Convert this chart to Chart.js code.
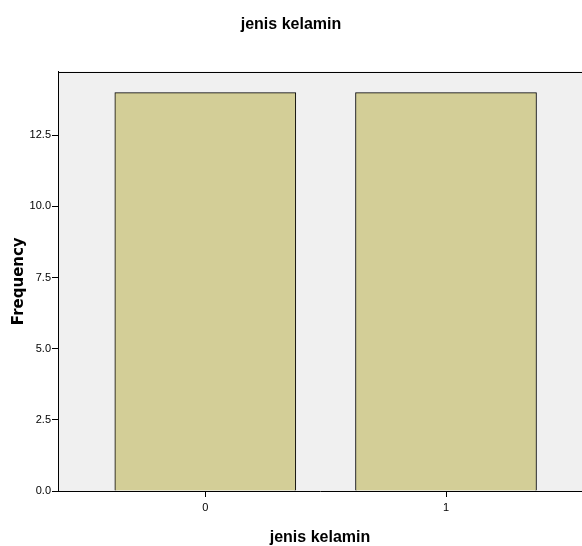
<!DOCTYPE html>
<html>
<head>
<meta charset="utf-8">
<script src="https://cdn.jsdelivr.net/npm/chart.js@4"></script>
<style>
  html, body { margin: 0; padding: 0; background: #fff; }
  #wrap { width: 582px; height: 546px; }
</style>
</head>
<body>
<div id="wrap"><canvas id="barChart" width="582" height="546"></canvas></div>
<script>
const categories = ['0', '1'];
const categoryValues = [0, 1];
const frequencies = [14, 14];
const yTicks = [0, 2.5, 5, 7.5, 10, 12.5];

// grey plot background and the top border line
const plotFrame = {
    id: 'plotFrame',
    beforeDraw(chart) {
        const { ctx, chartArea: a } = chart;
        ctx.save();
        ctx.fillStyle = '#f0f0f0';
        ctx.fillRect(a.left, a.top, a.right - a.left, a.bottom - a.top);
        ctx.restore();
    },
    afterDraw(chart) {
        const { ctx, chartArea: a } = chart;
        ctx.save();
        ctx.strokeStyle = '#000';
        ctx.lineWidth = 1;
        ctx.beginPath();
        ctx.moveTo(a.left, Math.round(a.top) + 0.5);
        ctx.lineTo(a.right, Math.round(a.top) + 0.5);
        ctx.stroke();
        ctx.restore();
    }
};

document.addEventListener('DOMContentLoaded', function () {
    const ctx = document.getElementById('barChart').getContext('2d');
    new Chart(ctx, {
        type: 'bar',
        data: {
            datasets: [{
                label: 'Frequency',
                data: categoryValues.map((v, i) => ({ x: v, y: frequencies[i] })),
                backgroundColor: '#d3ce97',
                borderColor: '#000',
                borderWidth: 1,
                barThickness: 181
            }]
        },
        options: {
            responsive: false,
            animation: false,
            layout: { padding: 0 },
            plugins: {
                legend: { display: false },
                tooltip: { enabled: false },
                title: {
                    display: true,
                    text: 'jenis kelamin',
                    color: '#000',
                    font: { family: 'Liberation Sans, Arial, sans-serif', size: 16, weight: 'bold', lineHeight: 1.2 },
                    padding: { top: 15.4, bottom: 36.9 }
                }
            },
            scales: {
                x: {
                    type: 'linear',
                    offset: false,
                    min: -0.612,
                    max: 1.565,
                    afterBuildTicks: s => { s.ticks = categoryValues.map(v => ({ value: v })); },
                    afterFit: s => { s.height = 55; },
                    ticks: {
                        callback: v => categories[categoryValues.indexOf(v)],
                        color: '#000',
                        font: { family: 'Liberation Sans, Arial, sans-serif', size: 11 },
                        padding: 4,
                        maxRotation: 0
                    },
                    grid: { display: true, offset: false, drawOnChartArea: false, drawTicks: true, tickLength: 6, color: '#000' },
                    border: { display: true, color: '#000', width: 1 },
                    title: {
                        display: true,
                        text: 'jenis kelamin',
                        color: '#000',
                        font: { family: 'Liberation Sans, Arial, sans-serif', size: 16, weight: 'bold', lineHeight: 1 },
                        padding: { top: 0, bottom: 0 }
                    }
                },
                y: {
                    min: 0,
                    max: 14.74,
                    afterBuildTicks: s => { s.ticks = yTicks.map(v => ({ value: v })); },
                    afterFit: s => { s.width = 58; },
                    ticks: {
                        callback: v => v.toFixed(1),
                        color: '#000',
                        font: { family: 'Liberation Sans, Arial, sans-serif', size: 11 },
                        padding: 1
                    },
                    grid: { display: true, drawOnChartArea: false, drawTicks: true, tickLength: 6, color: '#000' },
                    border: { display: true, color: '#000', width: 1 },
                    title: {
                        display: true,
                        text: 'Frequency',
                        color: '#000',
                        font: { family: 'DejaVu Sans, sans-serif', size: 15, weight: 'bold', lineHeight: 1.2 },
                        padding: { top: 10, bottom: 0 }
                    }
                }
            }
        },
        plugins: [plotFrame]
    });
});
</script>
</body>
</html>
